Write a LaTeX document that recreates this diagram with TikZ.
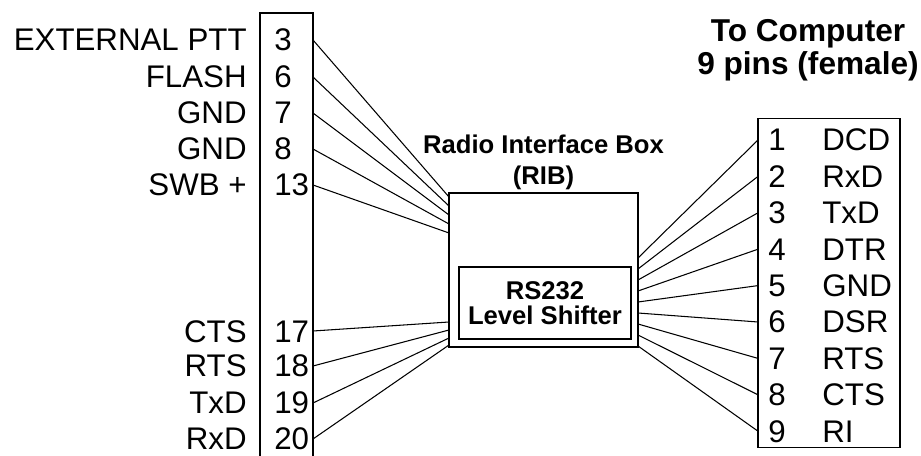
\documentclass[tikz,border=0pt]{standalone}
\usepackage{fontspec}
\setmainfont{Liberation Sans}
\usetikzlibrary{positioning}
\begin{document}
\begin{tikzpicture}[x=0.02cm,y=-0.02cm]
	\tikzset{lab/.style={font=\fontsize{17.8}{20}\selectfont,inner sep=0pt},
	hd/.style={font=\bfseries\fontsize{18}{18.7}\selectfont,inner sep=0pt,align=center},
	sm/.style={font=\bfseries\fontsize{14.6}{17.6}\selectfont,inner sep=0pt,align=center},
	w/.style={line width=0.6pt}}
	\useasboundingbox(0,0)rectangle(921,456);
	% radio side, open at the bottom
	\draw[w](260,470)|-(313,13)--(313,470);
	\foreach \n/\t/\y/\e in {
	3/EXTERNAL PTT/40/197,6/FLASH/77/206,7/GND/113/215,8/GND/149/224,13/SWB +/185/233,
	17/CTS/331/322,18/RTS/366/330,19/TxD/403/338,20/RxD/439/345}
	{\path(247,\y+11)node[lab,anchor=base east](ln\n){\t}(274,\y+11)node[lab,anchor=base west](lp\n){\n};
	\coordinate(lw\n)at(313,\y);
	\coordinate(re\n)at(449,\e);
	\draw[w](lw\n)--(re\n);}
	% the box
	\node[draw,line width=1.1pt,minimum width=3.78cm,minimum height=3.08cm](rib)at(543.5,270){};
	\node[sm,above=0.03cm of rib.north](ribt){Radio Interface Box\\(RIB)};
	\node[draw,line width=0.7pt,minimum width=3.44cm,minimum height=1.44cm,sm,font=\bfseries\fontsize{14.6}{15.3}\selectfont](ls)at(545,303){RS232\\[-1pt]Level Shifter};
	% computer side
	\node[draw,w,minimum width=2.84cm,minimum height=6.6cm](pc)at(829,283){};
	\node[hd](pct)at(808,50){To Computer\\9 pins (female)};
	\foreach \n/\t in {1/DCD,2/RxD,3/TxD,4/DTR,5/GND,6/DSR,7/RTS,8/CTS,9/RI}
	{\path(768,{140+36.4*(\n-1)+11})node[lab,anchor=base west](rp\n){\n}(822,{140+36.4*(\n-1)+11})node[lab,anchor=base west](rn\n){\t};
	\coordinate(rw\n)at(758,{140+36.4*(\n-1)});
	\coordinate(ri\n)at(638,{258+11*(\n-1)});
	\draw[w](ri\n)--(rw\n);}
\end{tikzpicture}
\end{document}
